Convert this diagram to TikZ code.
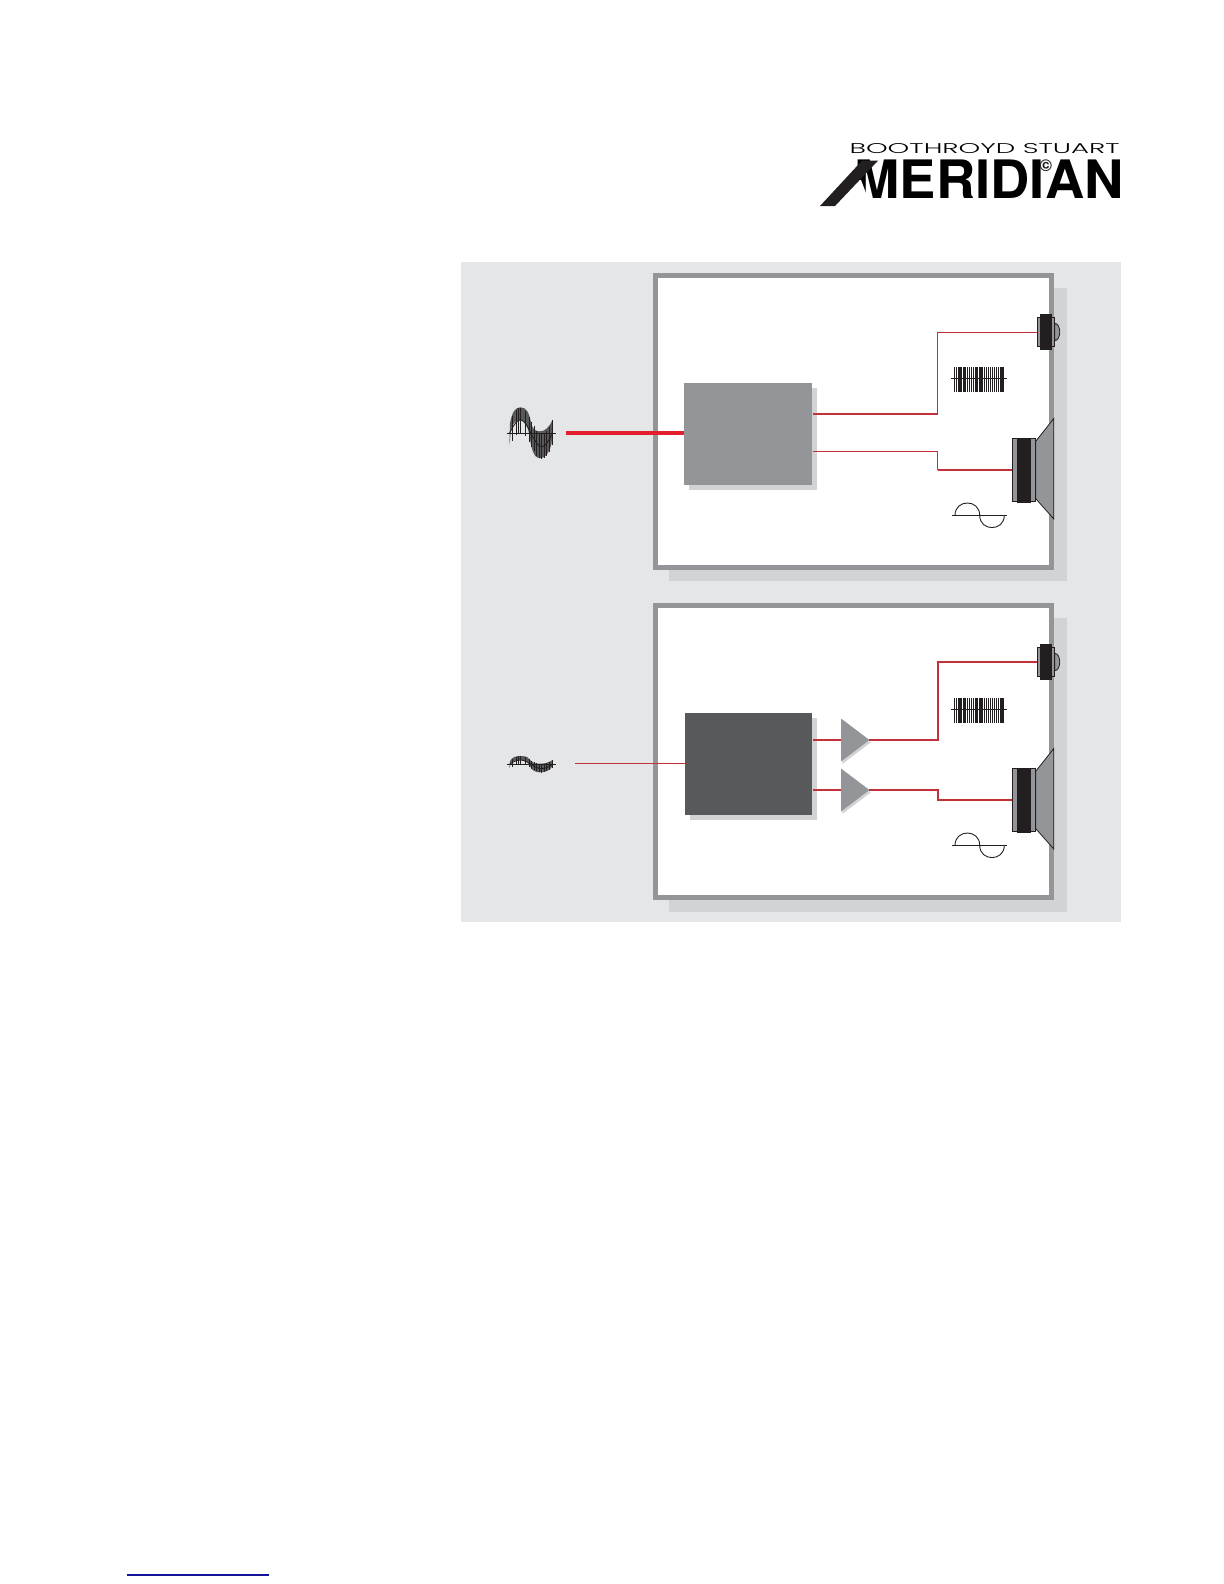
\documentclass[tikz,border=0pt]{standalone}
\usepackage{graphicx}
\usepackage{fontspec}
\usepackage{tikz}
\usetikzlibrary{positioning, shapes.geometric, shadows}
\setmainfont{TeX Gyre Heros}
\newfontfamily\logothin{Poppins Light}
\definecolor{panelgrey}{HTML}{E4E6E7}
\definecolor{shadegrey}{HTML}{D1D3D4}
\definecolor{framegrey}{HTML}{939598}
\definecolor{darkblock}{HTML}{58595B}
\definecolor{inkblack}{HTML}{231F20}
\definecolor{wirered}{HTML}{C4303A}
\definecolor{feedred}{HTML}{E31E2D}
\definecolor{linkblue}{HTML}{14149A}
\newcommand{\tweeter}[2]{%
  \fill[conefill] (1054.7,#2-8.6) .. controls (1061.4,#2-8.6) and (1061.4,#2+8.6) .. (1054.7,#2+8.6) -- cycle;
  \node[driver,minimum width=8.7pt,minimum height=14.7pt] (#1) at (1046,#2) {};
  \node[magnet,minimum width=6pt,minimum height=18pt] (#1m) at (1046,#2) {};
}
\newcommand{\woofer}[2]{%
  \fill[conefill] (1035.7,#2-28.7) -- (1053.7,#2-51.4) -- (1053.7,#2+48.9) -- (1035.7,#2+28.6) -- cycle;
  \node[driver,minimum width=11.7pt,minimum height=31.4pt] (#1) at (1024,#2) {};
  \node[magnet,minimum width=7pt,minimum height=32.5pt] (#1m) at (1024,#2) {};
}
\newcommand{\pulsecomb}[1]{%
  \foreach \x in {954.7,956.8,...,1004} {
    \draw[tooth] (\x,#1-11.3) -- (\x,#1+13.4);
  }
  \foreach \x in {965.2,975.7,990.4} {
    \draw[tooth,line width=.8pt] (\x,#1-11.3) -- (\x,#1+13.4);
  }
  \draw[axisline] (951,#1) -- (1007,#1);
}
\newcommand{\sineglyph}[1]{%
  \draw[axisline] (952.3,#1) -- (1006.7,#1);
  \draw[axisline] (955,#1) .. controls (955,#1-16.4) and (979.7,#1-16.4) .. (979.7,#1) .. controls (979.7,#1+16.4) and (1004.3,#1+16.4) .. (1004.3,#1);
}
\newcommand{\inputwave}[2]{%
  \begin{scope}[shift={(0,#1)},yscale=#2]
    \fill[darkblock] (509.3,11.7) -- (510,-10) .. controls (512,-21) and (515,-26) .. (520.5,-26) .. controls (527,-26) and (529,-20) .. (531,-11) .. controls (532.5,-4) and (535,-2) .. (540,-2) .. controls (545,-2) and (549,-6) .. (552.3,-13) -- (551.7,10) .. controls (549,20) and (545,25) .. (540,25) .. controls (535,25) and (532,19) .. (530,6) .. controls (528,-8) and (525,-13.3) .. (520,-13.3) .. controls (515,-13.3) and (512,-9) .. (511,-3) -- cycle;
    \foreach \x in {512.3,516,518.7,520.7,525,529,531.7,534,536.7,539,541.7,544,546.7,549.3,552.7} {
      \pgfmathsetmacro\s{-13.3*sin(180*(\x-509.5)/21.5)}
      \draw[axisline] (\x,\s-12.5) -- (\x,\s+12.5);
    }
    \draw[axisline,domain=509.5:552.5,samples=40] plot (\x,{-13.3*sin(180*(\x-509.5)/21.5)});
  \end{scope}
  \draw[axisline] (506.7,#1) -- (555.7,#1);
}

\begin{document}
\begin{tikzpicture}[
  x=.5pt,y=-.5pt,
  frame/.style={draw=framegrey,line width=2.5pt,fill=white,minimum width=198pt,minimum height=146pt,inner sep=0pt},
  block/.style={fill=framegrey,minimum width=64pt,minimum height=51pt,inner sep=0pt,drop shadow={shadow xshift=2.5pt,shadow yshift=-2.5pt,fill=shadegrey,opacity=1}},
  amp/.style={isosceles triangle,isosceles triangle stretches,fill=framegrey,minimum height=14.2pt,minimum width=21.5pt,inner sep=0pt,outer sep=0pt,anchor=west,drop shadow={shadow xshift=.7pt,shadow yshift=-1.2pt,fill=shadegrey,opacity=1}},
  driver/.style={draw=inkblack,line width=.5pt,fill=framegrey,inner sep=0pt},
  magnet/.style={fill=inkblack,inner sep=0pt},
  conefill/.style={fill=framegrey,draw=inkblack,line width=.4pt},
  tooth/.style={inkblack,line width=.6pt},
  axisline/.style={inkblack,line width=.45pt},
  wire/.style={wirered,line width=.45pt},
  heavy/.style={wirered,line width=1pt},
]
\useasboundingbox (0,0) rectangle (1224,1584);

\fill[panelgrey] (461,262) rectangle (1121,921.7);
\fill[shadegrey] (669,288) rectangle (1067,580.7);
\fill[shadegrey] (669,618) rectangle (1067,912);

\node[frame] (box1) at (853.5,421.5) {};
\node[frame] (box2) at (853.5,751.5) {};

% upper path
\node[block,anchor=north west] (dsp1) at (684,383) {};
\coordinate (in1) at (566,432.7);
\draw[feedred,line width=1.9pt] (in1) -- (in1 -| dsp1.west);
\coordinate (hi1) at (937.5,413.7);
\coordinate (lo1) at (937.5,451);
\tweeter{tw1}{332}
\woofer{wf1}{470}
\draw[heavy] (dsp1.east |- hi1) -- (hi1);
\draw[wire] (hi1) |- (tw1.west);
\draw[wire] (dsp1.east |- lo1) -- (lo1);
\draw[wire] (lo1) -- (lo1 |- wf1.west);
\draw[heavy] (lo1 |- wf1.west) -- (wf1.west);
\pulsecomb{378.3}
\sineglyph{515.3}
\inputwave{433.3}{1}

% lower path
\node[block,fill=darkblock,minimum width=63.5pt,anchor=north west] (dsp2) at (685,713) {};
\node[amp] (amp1) at (841,740) {};
\node[amp] (amp2) at (841,790) {};
\coordinate (in2) at (575,763.3);
\draw[wire] (in2) -- (in2 -| dsp2.west);
\coordinate (hi2) at (937.5,740);
\coordinate (lo2) at (937.5,790);
\tweeter{tw2}{662}
\woofer{wf2}{800}
\draw[heavy] (dsp2.east |- amp1.west) -- (amp1.west);
\draw[heavy] (dsp2.east |- amp2.west) -- (amp2.west);
\draw[heavy] (amp1.apex) -- (hi2) |- (tw2.west);
\draw[heavy] (amp2.apex) -- (lo2) |- (wf2.west);
\pulsecomb{709.3}
\sineglyph{845.3}
\inputwave{764.3}{.32}

% logo
\node[inner sep=0pt,anchor=south east] (brand) at (1120,154) {\logothin\resizebox{135pt}{5pt}{BOOTHROYD STUART}};
\node[inner sep=0pt,anchor=south east] (logo) at (1124,199.3) {\resizebox{134.5pt}{19.3pt}{\bfseries MERIDIAN}};
\fill[white] (852,201) -- (869,201) -- (861,180) -- (852,180) -- cycle;
\fill[inkblack] (820,206) -- (862,160.7) -- (878,160.7) -- (835,206) -- cycle;
\node[inner sep=0pt,font=\fontsize{8.5}{8.5}\bfseries,text=inkblack] (copy) at (1046,166) {©};

% stray rule at the foot of the page
\coordinate (ruleA) at (126.7,1575);
\coordinate (ruleB) at (269,1575);
\draw[linkblue,line width=.6pt] (ruleA) -- (ruleB);
\end{tikzpicture}
\end{document}
